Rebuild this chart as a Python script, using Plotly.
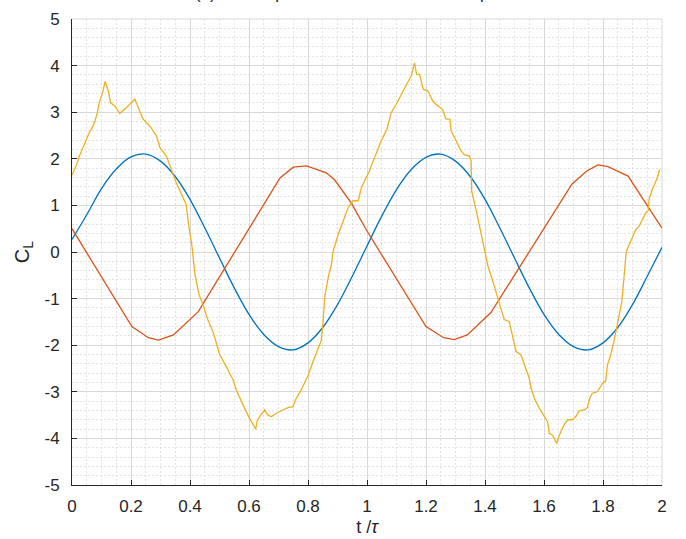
import plotly.graph_objects as go

# ---------------- data ----------------
blue_t = [round(0.05 * i, 2) for i in range(41)]
blue_v = [0.27, 0.80, 1.36, 1.78, 2.04, 2.10, 1.95, 1.62, 1.13, 0.52,
          -0.13, -0.77, -1.34, -1.77, -2.03, -2.10, -1.95, -1.62, -1.13, -0.52,
          0.13, 0.77, 1.34, 1.77, 2.03, 2.10, 1.95, 1.62, 1.13, 0.52,
          -0.13, -0.77, -1.34, -1.77, -2.03, -2.10, -1.95, -1.62, -1.13, -0.52,
          0.10]

orange_t = [0.0, 0.203, 0.259, 0.293, 0.344, 0.428, 0.705, 0.75, 0.795, 0.862,
            0.89, 0.947, 1.0, 1.2, 1.26, 1.296, 1.34, 1.42, 1.695, 1.745,
            1.783, 1.817, 1.885, 2.0]
orange_v = [0.50, -1.60, -1.84, -1.89, -1.78, -1.28, 1.59, 1.82, 1.85, 1.70,
            1.55, 1.05, 0.45, -1.60, -1.84, -1.88, -1.78, -1.30, 1.46, 1.74,
            1.87, 1.83, 1.63, 0.51]

yellow_t = [0.0, 0.016, 0.025, 0.038, 0.047, 0.061, 0.066, 0.078, 0.086, 0.092,
            0.104, 0.112, 0.123, 0.131, 0.146, 0.162, 0.185, 0.213, 0.224, 0.241,
            0.264, 0.287, 0.298, 0.320, 0.343, 0.354, 0.372, 0.387, 0.395, 0.406,
            0.417, 0.430, 0.444, 0.460, 0.478, 0.490, 0.501, 0.523, 0.546, 0.557,
            0.568, 0.585, 0.602, 0.614, 0.623, 0.627, 0.636, 0.653, 0.664, 0.676,
            0.693, 0.715, 0.732, 0.749, 0.760, 0.777, 0.800, 0.817, 0.834, 0.845,
            0.851, 0.857, 0.868, 0.879, 0.885, 0.902, 0.919, 0.936, 0.953, 0.970,
            0.981, 0.992, 1.008, 1.025, 1.048, 1.067, 1.082, 1.099, 1.116, 1.138,
            1.150, 1.161, 1.168, 1.178, 1.191, 1.206, 1.223, 1.234, 1.256, 1.268,
            1.281, 1.285, 1.302, 1.319, 1.330, 1.347, 1.353, 1.355, 1.370, 1.390,
            1.410, 1.430, 1.448, 1.465, 1.482, 1.494, 1.505, 1.522, 1.539, 1.550,
            1.556, 1.567, 1.584, 1.601, 1.612, 1.618, 1.629, 1.643, 1.652, 1.668,
            1.680, 1.697, 1.708, 1.719, 1.736, 1.747, 1.755, 1.764, 1.781, 1.798,
            1.809, 1.815, 1.826, 1.837, 1.845, 1.855, 1.864, 1.879, 1.894, 1.911,
            1.922, 1.933, 1.945, 1.954, 1.956, 1.967, 1.976, 1.984, 1.992]
yellow_v = [1.65, 1.88, 2.06, 2.24, 2.38, 2.60, 2.63, 2.81, 2.99, 3.20,
            3.42, 3.66, 3.46, 3.20, 3.13, 2.97, 3.10, 3.28, 3.10, 2.85,
            2.70, 2.49, 2.24, 2.06, 1.66, 1.48, 1.23, 1.02, 0.59, 0.16,
            -0.49, -0.90, -1.13, -1.45, -1.71, -1.99, -2.21, -2.46, -2.74, -2.96,
            -3.10, -3.35, -3.57, -3.71, -3.80, -3.64, -3.53, -3.39, -3.50, -3.53,
            -3.46, -3.39, -3.34, -3.32, -3.14, -2.96, -2.65, -2.35, -2.10, -1.90,
            -1.50, -0.95, -0.56, -0.27, 0.01, 0.37, 0.66, 0.95, 1.10, 1.10,
            1.38, 1.52, 1.74, 2.02, 2.38, 2.63, 2.99, 3.17, 3.38, 3.63,
            3.78, 4.06, 3.81, 3.81, 3.49, 3.46, 3.24, 3.17, 3.06, 2.85,
            2.85, 2.60, 2.38, 2.17, 2.09, 2.06, 1.95, 1.30, 0.90, 0.30,
            -0.30, -0.70, -1.06, -1.45, -1.49, -1.85, -2.13, -2.21, -2.49, -2.71,
            -2.92, -3.14, -3.35, -3.53, -3.64, -3.89, -3.93, -4.11, -3.93, -3.71,
            -3.60, -3.60, -3.53, -3.41, -3.39, -3.34, -3.14, -3.03, -3.00, -2.82,
            -2.77, -2.42, -2.21, -1.92, -1.63, -1.35, -1.06, 0.01, 0.23, 0.48,
            0.55, 0.70, 0.84, 0.89, 1.13, 1.34, 1.48, 1.59, 1.77]

x_ticks = [0, 0.2, 0.4, 0.6, 0.8, 1, 1.2, 1.4, 1.6, 1.8, 2]
x_tick_text = ["0", "0.2", "0.4", "0.6", "0.8", "1", "1.2", "1.4", "1.6", "1.8", "2"]
y_ticks = [-5, -4, -3, -2, -1, 0, 1, 2, 3, 4, 5]
y_tick_text = ["-5", "-4", "-3", "-2", "-1", "0", "1", "2", "3", "4", "5"]

title_text = "(a) Heave-pitch motion at different amplitudes"

# ---------------- figure ----------------
FONT = "Liberation Sans, Arial, sans-serif"
TXT = "#262626"

fig = go.Figure()
fig.add_trace(go.Scatter(x=blue_t, y=blue_v, mode="lines",
                         line=dict(color="#0072BD", width=1.3, shape="spline", smoothing=1.0),
                         showlegend=False))
fig.add_trace(go.Scatter(x=orange_t, y=orange_v, mode="lines",
                         line=dict(color="#D95319", width=1.3),
                         showlegend=False))
fig.add_trace(go.Scatter(x=yellow_t, y=yellow_v, mode="lines",
                         line=dict(color="#EDB120", width=1.3),
                         showlegend=False))

axis_common = dict(
    automargin=False,
    showgrid=True, gridcolor="#d9d9d9", gridwidth=1,
    showline=True, linecolor=TXT, linewidth=1,
    ticks="inside", ticklen=5, tickcolor=TXT, tickwidth=1,
    zeroline=False,
    tickfont=dict(family=FONT, size=17, color=TXT),
    minor=dict(showgrid=True, gridcolor="#e2e2e2", griddash="2px,2px", gridwidth=1,
               ticks=""),
)

fig.update_xaxes(range=[0, 2], tickvals=x_ticks, ticktext=x_tick_text,
                 minor_dtick=0.05, minor_tick0=0,
                 ticklabelstandoff=6,
                 title=dict(text="t /<i>τ</i>", font=dict(family=FONT, size=18, color=TXT),
                            standoff=4),
                 **axis_common)
fig.update_yaxes(range=[-5, 5], tickvals=y_ticks, ticktext=y_tick_text,
                 minor_dtick=0.2, minor_tick0=0,
                 ticklabelstandoff=8,
                 title=dict(text="C<sub>L</sub>", font=dict(family=FONT, size=20, color=TXT),
                            standoff=9),
                 **axis_common)

# light border on top/right like MATLAB grid at limits
fig.add_shape(type="line", xref="paper", yref="paper", x0=0, x1=1, y0=1, y1=1,
              line=dict(color="#d9d9d9", width=1), layer="below")
fig.add_shape(type="line", xref="paper", yref="paper", x0=1, x1=1, y0=0, y1=1,
              line=dict(color="#d9d9d9", width=1), layer="below")

fig.add_annotation(text=title_text, xref="paper", yref="paper", x=0.5, y=1.031,
                   xanchor="center", yanchor="bottom", showarrow=False,
                   font=dict(family=FONT, size=17, color=TXT))

fig.update_layout(
    width=686, height=539,
    margin=dict(l=72, r=24, t=19, b=54, autoexpand=False),
    paper_bgcolor="white", plot_bgcolor="white",
    font=dict(family=FONT, color=TXT),
)

fig.write_html("out.html", config={"displayModeBar": False},
               post_script="document.body.style.margin='0';document.body.style.padding='0';")
